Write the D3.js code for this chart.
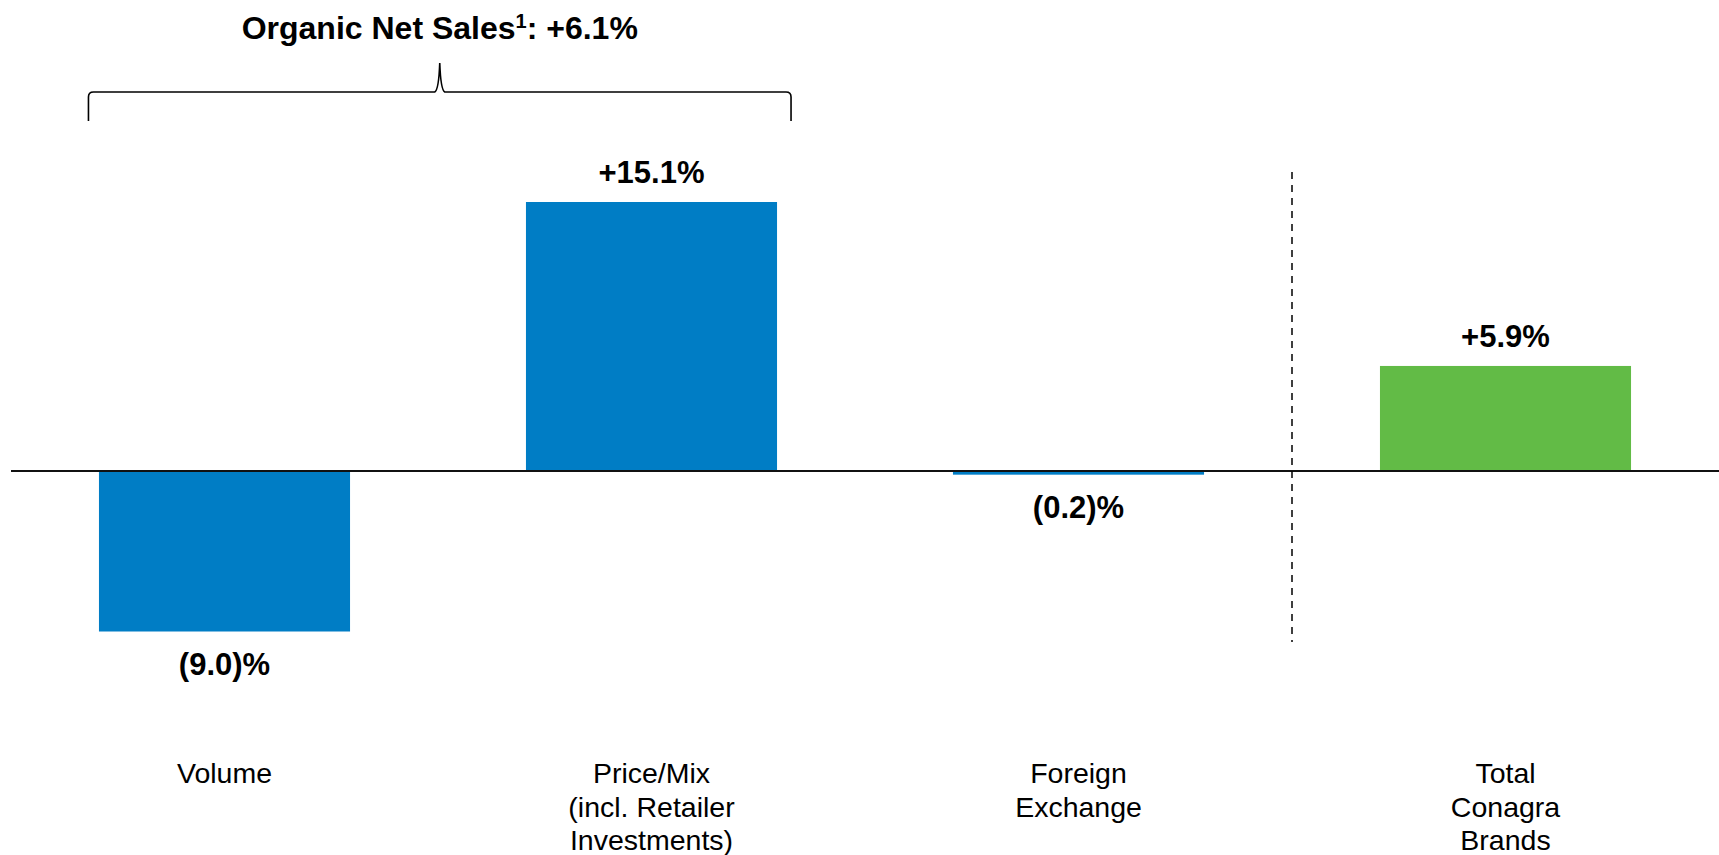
<!DOCTYPE html>
<html>
<head>
<meta charset="utf-8">
<script src="https://cdn.jsdelivr.net/npm/d3@7"></script>
<style>
  body { margin: 0; background: #fff; }
  text { font-family: "Liberation Sans", Arial, sans-serif; fill: #000; }
</style>
</head>
<body>
<div id="chart"></div>
<script>
// data
var categories = ["Volume", "Price/Mix", "Foreign Exchange", "Total"];
var categoryLines = [
  ["Volume"],
  ["Price/Mix", "(incl. Retailer", "Investments)"],
  ["Foreign", "Exchange"],
  ["Total", "Conagra", "Brands"]
];
var values = [-9.0, 15.1, -0.2, 5.9];
var organicLabel = ["Organic Net Sales", "1", ": +6.1%"];

var width = 1719, height = 855;

var svg = d3.select("#chart").append("svg")
    .attr("width", width)
    .attr("height", height);

// scales
var x = d3.scaleBand()
    .domain(categories)
    .range([11, 1719])
    .paddingInner(0.412)
    .paddingOuter(0.206);

var y = d3.scaleLinear()
    .domain([-9, 15.1])
    .range([631.5, 202]);

var color = d3.scaleOrdinal()
    .domain(categories)
    .range(["#007dc5", "#007dc5", "#007dc5", "#62bb46"]);

function fmt(v) {
  return v < 0 ? "(" + Math.abs(v).toFixed(1) + ")%" : "+" + v.toFixed(1) + "%";
}

// bars
svg.selectAll("rect.bar")
    .data(values)
  .enter().append("rect")
    .attr("class", "bar")
    .attr("x", function(d, i) { return x(categories[i]); })
    .attr("width", x.bandwidth())
    .attr("y", function(d) { return y(Math.max(0, d)); })
    .attr("height", function(d) { return Math.abs(y(d) - y(0)); })
    .attr("fill", function(d, i) { return color(categories[i]); });

// zero line
svg.append("line")
    .attr("x1", 11).attr("x2", width)
    .attr("y1", y(0)).attr("y2", y(0))
    .attr("stroke", "#111")
    .attr("stroke-width", 2);

// dashed divider before the total
var divX = (x(categories[2]) + x.bandwidth() + x(categories[3])) / 2;
svg.append("line")
    .attr("x1", divX).attr("x2", divX)
    .attr("y1", 172).attr("y2", 642)
    .attr("stroke", "#000")
    .attr("stroke-width", 1.5)
    .attr("stroke-dasharray", "7,6");

// value labels
svg.selectAll("text.val")
    .data(values)
  .enter().append("text")
    .attr("class", "val")
    .attr("x", function(d, i) { return x(categories[i]) + x.bandwidth() / 2; })
    .attr("y", function(d) { return d < 0 ? y(d) + 43 : y(d) - 18.7; })
    .attr("text-anchor", "middle")
    .style("font-size", "31px")
    .style("font-weight", "bold")
    .text(fmt);

// category labels
var cat = svg.selectAll("text.cat")
    .data(categoryLines)
  .enter().append("text")
    .attr("class", "cat")
    .attr("text-anchor", "middle")
    .attr("transform", function(d, i) {
      return "translate(" + (x(categories[i]) + x.bandwidth() / 2) + ",783)";
    })
    .style("font-size", "28.5px");

cat.selectAll("tspan")
    .data(function(d) { return d; })
  .enter().append("tspan")
    .attr("x", 0)
    .attr("y", function(d, j) { return j * 33.5; })
    .text(function(d) { return d; });

// brace over volume + price/mix
var bx0 = x(categories[0]) - 10.5,
    bx1 = x(categories[1]) + x.bandwidth() + 14,
    bm = (bx0 + bx1) / 2,
    by = 92, bBottom = 121, bTop = 63, r = 5;

var brace = d3.path();
brace.moveTo(bx0, bBottom);
brace.lineTo(bx0, by + r);
brace.quadraticCurveTo(bx0, by, bx0 + r, by);
brace.lineTo(bm - 5, by);
brace.quadraticCurveTo(bm - 1, by - 2, bm, bTop);
brace.quadraticCurveTo(bm + 1, by - 2, bm + 5, by);
brace.lineTo(bx1 - r, by);
brace.quadraticCurveTo(bx1, by, bx1, by + r);
brace.lineTo(bx1, bBottom);

svg.append("path")
    .attr("d", brace.toString())
    .attr("fill", "none")
    .attr("stroke", "#000")
    .attr("stroke-width", 1.6);

// headline over the brace
var title = svg.append("text")
    .attr("x", bm)
    .attr("y", 39)
    .attr("text-anchor", "middle")
    .style("font-size", "32px")
    .style("font-weight", "bold");

title.append("tspan").text(organicLabel[0]);
title.append("tspan")
    .attr("dy", -11)
    .style("font-size", "20px")
    .text(organicLabel[1]);
title.append("tspan")
    .attr("dy", 11)
    .text(organicLabel[2]);
</script>
</body>
</html>
